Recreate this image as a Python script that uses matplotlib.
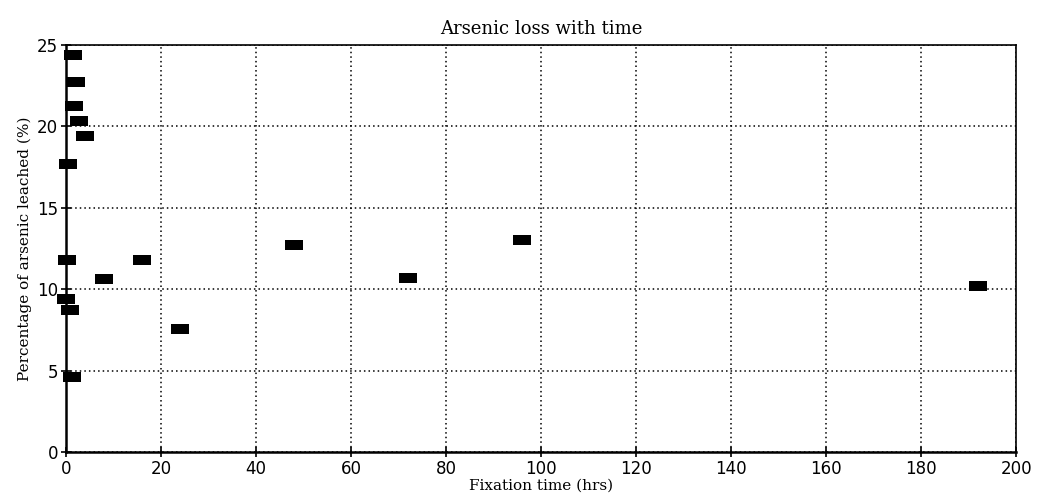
import numpy as np
import matplotlib.pyplot as plt
from matplotlib.path import Path

# fixation time (hrs) and arsenic leached (%)
fix_time = [1.5, 2.2, 1.7, 2.8, 4.0, 0.5, 0.3, 16, 8, 0, 0.8, 24, 1.3, 48, 72, 96, 192]
leached = [24.4, 22.7, 21.25, 20.3, 19.4, 17.7, 11.8, 11.8, 10.65, 9.4, 8.75, 7.55,
           4.6, 12.7, 10.7, 13.0, 10.2]

x_ticks = np.arange(0, 201, 20)
y_ticks = np.arange(0, 26, 5)

# wide block marker like the original plotter
rect = Path([(-1, -0.62), (1, -0.62), (1, 0.62), (-1, 0.62), (-1, -0.62)],
            [Path.MOVETO, Path.LINETO, Path.LINETO, Path.LINETO, Path.CLOSEPOLY])

fig = plt.figure(figsize=(10.39, 5.04), dpi=100)
ax = fig.add_axes([0.0635, 0.103, 0.9145, 0.808])

ax.scatter(fix_time, leached, marker=rect, s=150, c='black', linewidths=0, zorder=3,
           clip_on=False)

ax.set_xlim(0, 200)
ax.set_ylim(0, 25)
ax.set_xticks(x_ticks)
ax.set_yticks(y_ticks)
ax.grid(True, color='black', linestyle=(0, (1, 2)), linewidth=1.1)

for s in ['left', 'bottom']:
    ax.spines[s].set_linewidth(1.8)
for s in ['top', 'right']:
    ax.spines[s].set_linewidth(1.2)

ax.tick_params(direction='inout', length=7, width=1.2, labelsize=12, pad=2,
               labelcolor='black')
for lab in ax.get_xticklabels() + ax.get_yticklabels():
    lab.set_fontfamily('DejaVu Sans')

ax.set_title('Arsenic loss with time', fontsize=13, family='DejaVu Serif', pad=8)
ax.set_xlabel('Fixation time (hrs)', fontsize=11, family='DejaVu Serif', labelpad=1)
ax.set_ylabel('Percentage of arsenic leached (%)', fontsize=11, family='DejaVu Serif',
              labelpad=4)

fig.savefig('out.png', dpi=100)
